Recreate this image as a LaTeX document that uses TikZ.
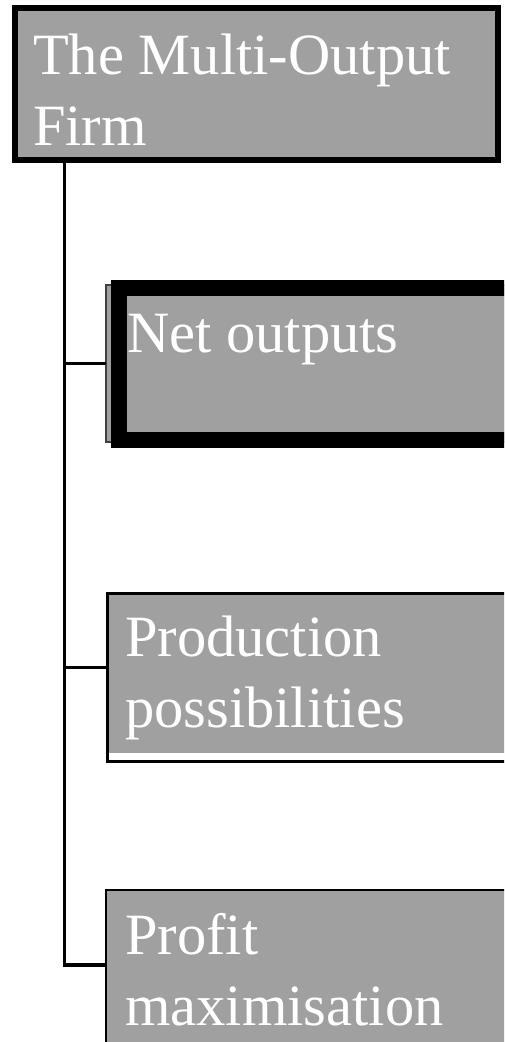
\documentclass[tikz,border=0pt]{standalone}
\usepackage{fontspec}
\setmainfont{Liberation Serif}
\definecolor{boxgray}{RGB}{160,160,160}
\tikzset{
  boxtext/.style={font=\fontsize{58.5}{71}\selectfont, text=white, anchor=base west, inner sep=0pt, align=left},
  boxbase/.style={anchor=north west, inner sep=0pt, outer sep=0pt, fill=boxgray},
  conn/.style={line width=3.2pt, line join=miter},
}
\begin{document}
\begin{tikzpicture}[x=1pt,y=-1pt]
\useasboundingbox (0,0) rectangle (504,1042);
\clip (0,0) rectangle (504,1042);
% top box
\node[boxbase, draw=black, line width=6pt, minimum width=483pt, minimum height=152pt] (top) at (15,8) {};
\node[boxtext] (toptext) at (33,145) {The Multi-Output\\Firm};
% net outputs
\node[boxbase, draw=black!75, line width=1.5pt, minimum width=420pt, minimum height=157pt] (netout) at (106,285) {};
\node[boxbase, draw=black, line width=16pt, minimum width=420pt, minimum height=152pt] (net) at (119,288) {};
\node[boxtext] (nettext) at (127,352) {Net outputs};
% production
\node[boxbase, draw=black, fill=white, line width=3pt, minimum width=420pt, minimum height=168pt] (prod) at (107.5,593.5) {};
\fill[boxgray] (109,595) rectangle (530,753);
\node[boxtext] (prodtext) at (125,727) {Production\\possibilities};
% profit
\node[boxbase, draw=black, line width=2pt, minimum width=420pt, minimum height=200pt] (profit) at (106,889.5) {};
\node[boxtext] (proftext) at (125,1025) {Profit\\maximisation};
% connectors
\coordinate (trunk) at (64.5,160);
\draw[conn] (trunk) -- (trunk |- 0,965) -- ([yshift=-75.5pt]profit.north west);
\draw[conn] (trunk |- netout.west) -- (netout.west);
\draw[conn] ([yshift=10pt]trunk |- prod.west) -- ([yshift=10pt]prod.west);
\end{tikzpicture}
\end{document}
